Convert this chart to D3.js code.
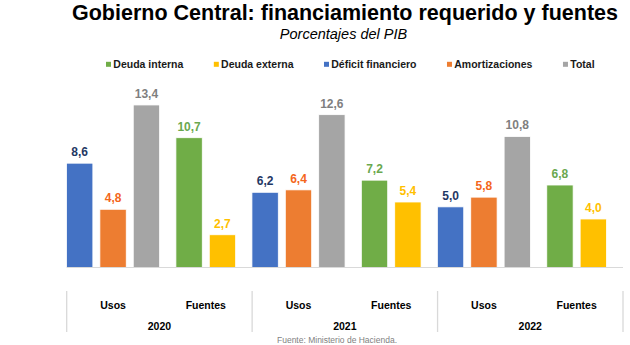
<!DOCTYPE html>
<html>
<head>
<meta charset="utf-8">
<script src="https://cdn.jsdelivr.net/npm/d3@7"></script>
<style>
  html, body { margin: 0; padding: 0; background: #ffffff; }
  svg { display: block; font-family: "Liberation Sans", Arial, sans-serif; }
</style>
</head>
<body>
<svg id="chart" width="630" height="345"></svg>
<script>
// Financing needs ("Usos") and sources ("Fuentes") of the central government, % of GDP
const years = ["2020", "2021", "2022"];
const groups = ["Usos", "Fuentes"];
const legendOrder = ["Deuda interna", "Deuda externa", "Déficit financiero", "Amortizaciones", "Total"];
const usosSeries = ["Déficit financiero", "Amortizaciones", "Total"];
const fuentesSeries = ["Deuda interna", "Deuda externa"];

const deficitFinanciero = [8.6, 6.2, 5.0];
const amortizaciones = [4.8, 6.4, 5.8];
const total = [13.4, 12.6, 10.8];
const deudaInterna = [10.7, 7.2, 6.8];
const deudaExterna = [2.7, 5.4, 4.0];

const valuesBySeries = {
  "Déficit financiero": deficitFinanciero,
  "Amortizaciones": amortizaciones,
  "Total": total,
  "Deuda interna": deudaInterna,
  "Deuda externa": deudaExterna
};
const seriesByGroup = { "Usos": usosSeries, "Fuentes": fuentesSeries };

const barColor = {
  "Deuda interna": "#70ad47",
  "Deuda externa": "#ffc000",
  "Déficit financiero": "#4472c4",
  "Amortizaciones": "#ed7d31",
  "Total": "#a5a5a5"
};
const labelColor = {
  "Deuda interna": "#6aa84f",
  "Deuda externa": "#ffc000",
  "Déficit financiero": "#1f3864",
  "Amortizaciones": "#f4661b",
  "Total": "#7f7f7f"
};

const svg = d3.select("#chart");

// Titles
svg.append("text")
  .attr("x", 345).attr("y", 19.5)
  .attr("text-anchor", "middle")
  .attr("font-size", 21.5).attr("font-weight", "bold").attr("fill", "#000")
  .text("Gobierno Central: financiamiento requerido y fuentes");
svg.append("text")
  .attr("x", 343.5).attr("y", 39)
  .attr("text-anchor", "middle")
  .attr("font-size", 14.5).attr("font-style", "italic").attr("fill", "#000")
  .text("Porcentajes del PIB");

// Legend
const legend = svg.append("g").attr("transform", "translate(106,0)");
let lx = 0;
legendOrder.forEach(name => {
  const item = legend.append("g").attr("transform", `translate(${lx},0)`);
  item.append("rect")
    .attr("x", 0).attr("y", 61.8).attr("width", 5).attr("height", 5)
    .attr("fill", barColor[name]);
  const t = item.append("text")
    .attr("x", 7.3).attr("y", 68.3)
    .attr("font-size", 10.5).attr("font-weight", "bold").attr("fill", "#1a1a1a")
    .text(name);
  lx += 7.3 + t.node().getComputedTextLength() + 30.5;
});

// Scales
const plotLeft = 66.7, plotRight = 623, baseY = 267.5;
const y = d3.scaleLinear().domain([0, 16]).range([baseY, baseY - 16 * 12.13]);
const x0 = d3.scaleBand().domain(years).range([plotLeft, plotRight]);
const xg = d3.scaleBand().domain(groups).range([0, x0.bandwidth()]);
const slot = xg.bandwidth() * 0.36;

function innerScale(group) {
  const ser = seriesByGroup[group];
  const c = xg(group) + xg.bandwidth() / 2;
  return d3.scaleBand().domain(ser)
    .range([c - ser.length * slot / 2, c + ser.length * slot / 2])
    .paddingInner(0.21).paddingOuter(0.105);
}

const fmt = v => d3.format(".1f")(v).replace(".", ",");

// Bars
const bars = [];
years.forEach((yr, i) => {
  groups.forEach(g => {
    const x1 = innerScale(g);
    seriesByGroup[g].forEach(s => {
      bars.push({ year: yr, group: g, series: s, value: valuesBySeries[s][i],
                  x: x0(yr) + x1(s), w: x1.bandwidth() });
    });
  });
});

svg.append("g").selectAll("rect").data(bars).join("rect")
  .attr("x", d => d.x).attr("width", d => d.w)
  .attr("y", d => y(d.value)).attr("height", d => y(0) - y(d.value))
  .attr("fill", d => barColor[d.series])
  .attr("stroke", "#ffffff").attr("stroke-width", 0.8);

svg.append("g").selectAll("text").data(bars).join("text")
  .attr("x", d => d.x + d.w / 2).attr("y", d => y(d.value) - 7)
  .attr("text-anchor", "middle")
  .attr("font-size", 12).attr("font-weight", "bold")
  .attr("fill", d => labelColor[d.series])
  .text(d => fmt(d.value));

// Baseline
svg.append("line")
  .attr("x1", plotLeft).attr("x2", plotRight)
  .attr("y1", y(0)).attr("y2", y(0))
  .attr("stroke", "#d9d9d9").attr("stroke-width", 1);

// Two-level category axis
const axis = svg.append("g");
const dividers = years.map(yr => x0(yr)).concat([plotRight]);
axis.selectAll("line").data(dividers).join("line")
  .attr("x1", d => d).attr("x2", d => d)
  .attr("y1", 291).attr("y2", 332)
  .attr("stroke", "#d9d9d9").attr("stroke-width", 1.3);

years.forEach(yr => {
  groups.forEach(g => {
    axis.append("text")
      .attr("x", x0(yr) + xg(g) + xg.bandwidth() / 2).attr("y", 309)
      .attr("text-anchor", "middle")
      .attr("font-size", 10.5).attr("font-weight", "bold").attr("fill", "#000")
      .text(g);
  });
  axis.append("text")
    .attr("x", x0(yr) + x0.bandwidth() / 2).attr("y", 329.5)
    .attr("text-anchor", "middle")
    .attr("font-size", 10.5).attr("font-weight", "bold").attr("fill", "#000")
    .text(yr);
});

// Source note
svg.append("text")
  .attr("x", 337).attr("y", 342.5)
  .attr("text-anchor", "middle")
  .attr("font-size", 8.5).attr("fill", "#7f7f7f")
  .text("Fuente: Ministerio de Hacienda.");
</script>
</body>
</html>
